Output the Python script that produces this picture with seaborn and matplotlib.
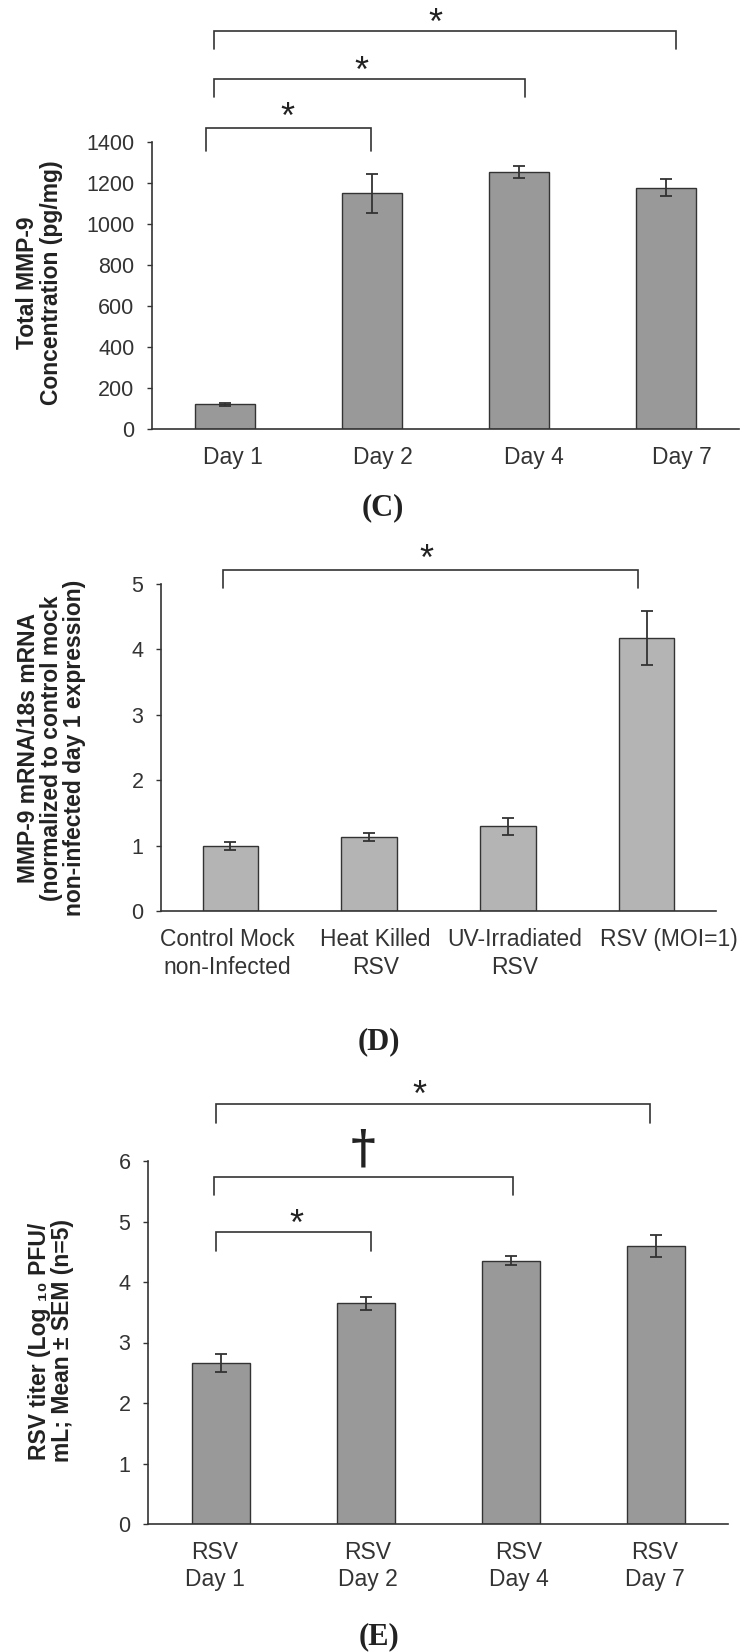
import matplotlib
matplotlib.use("Agg")
import matplotlib.pyplot as plt
import seaborn as sns
import numpy as np
import pandas as pd
from matplotlib.transforms import ScaledTranslation

# ---------------- data ----------------
c_days = ["Day 1", "Day 2", "Day 4", "Day 7"]
c_conc = [120, 1149, 1252, 1178]
c_err = [6, 94, 29, 41]
c_yticks = [0, 200, 400, 600, 800, 1000, 1200, 1400]

d_groups = ["Control Mock\nnon-Infected", "Heat Killed\nRSV", "UV-Irradiated\nRSV", "RSV (MOI=1)"]
d_expr = [1.00, 1.14, 1.30, 4.18]
d_err = [0.055, 0.065, 0.125, 0.41]
d_yticks = [0, 1, 2, 3, 4, 5]

e_groups = ["RSV\nDay 1", "RSV\nDay 2", "RSV\nDay 4", "RSV\nDay 7"]
e_titer = [2.66, 3.65, 4.355, 4.60]
e_err = [0.155, 0.11, 0.075, 0.18]
e_yticks = [0, 1, 2, 3, 4, 5, 6]

# significance annotations: (left, right, leg bottom, top, mark, mark x, mark y)
c_sig = [(-0.13, 0.99, 1356, 1468, "*", 0.42, 1571),
         (-0.075, 2.04, 1621, 1709, "*", 0.93, 1795),
         (-0.075, 3.07, 1852, 1940, "*", 1.43, 2028)]
d_sig = [(-0.05, 2.94, 4.94, 5.21, "*", 1.41, 5.53)]
e_sig = [(-0.03, 1.036, 4.52, 4.83, "*", 0.52, 5.13),
         (-0.046, 2.02, 5.44, 5.74, "\u2020", 0.985, 6.19),
         (-0.03, 2.96, 6.63, 6.94, "*", 1.37, 7.25)]

# ---------------- style ----------------
sns.set_theme(style="ticks")
plt.rcParams["font.family"] = ["Liberation Sans", "DejaVu Sans"]
DARK = "#333333"

W, H = 745, 1652
fig = plt.figure(figsize=(W / 100, H / 100), dpi=100)


def axes_px(left, right, top, bottom):
    return fig.add_axes([left / W, 1 - bottom / H, (right - left) / W, (bottom - top) / H])


def panel(ax, cats, vals, errs, color, width, ylim, yticks, sig, label_dx):
    sns.barplot(x=cats, y=vals, color=color, width=width, saturation=1,
                edgecolor=DARK, linewidth=1.0, ax=ax, zorder=2)
    ax.errorbar(np.arange(len(cats)), vals, yerr=errs, fmt="none", ecolor=DARK,
                elinewidth=1.3, capsize=4, capthick=1.3, zorder=3)
    ax.set_xlim(-0.5, 3.5)
    ax.set_ylim(*ylim)
    ax.set_yticks(yticks)
    ax.set_xlabel("")
    ax.set_ylabel("")
    sns.despine(ax=ax)
    for s in ("left", "bottom"):
        ax.spines[s].set_color(DARK)
        ax.spines[s].set_linewidth(1.2)
    ax.tick_params(axis="y", length=3.6, width=1.0, color=DARK, pad=9,
                   labelsize=15.5, labelcolor=DARK)
    ax.tick_params(axis="x", length=0, pad=12, labelsize=16.5, labelcolor=DARK)
    for lab in ax.get_xticklabels():
        lab.set_linespacing(1.25)
    for lab, dx in zip(ax.get_xticklabels(), label_dx):
        lab.set_transform(lab.get_transform() + ScaledTranslation(dx / 100, 0, fig.dpi_scale_trans))
    for (x0, x1, yb, yt, mark, mx, my) in sig:
        ax.plot([x0, x0, x1, x1], [yb, yt, yt, yb], color=DARK, lw=1.2,
                clip_on=False, solid_joinstyle="miter")
        if mark == "*":
            ax.annotate(mark, xy=(mx, my), xytext=(0, -15), textcoords="offset points",
                        ha="center", va="baseline", fontsize=26, color="#222222",
                        annotation_clip=False)
        else:
            ax.annotate(mark, xy=(mx, my), xytext=(0, -9), textcoords="offset points",
                        ha="center", va="baseline", fontsize=34, color="#222222",
                        family="DejaVu Serif", weight="bold", annotation_clip=False)


# ---------------- panel C ----------------
axC = axes_px(152, 739, 142, 429)
panel(axC, c_days, c_conc, c_err, "#999999", 0.41, (0, 1400), c_yticks, c_sig,
      [7.7, 11, 15, 16])
fig.text(39.5 / W, 1 - 283 / H, "Total MMP-9\nConcentration (pg/mg)", rotation=90,
         ha="center", va="center", multialignment="center", fontsize=16.5,
         weight="bold", color="#222222", linespacing=1.05)
fig.text(383 / W, 1 - 508 / H, "(C)", family="Liberation Serif", weight="bold",
         fontsize=22, ha="center", va="center", color="#222222")

# ---------------- panel D ----------------
axD = axes_px(161, 716, 584, 911.5)
panel(axD, d_groups, d_expr, d_err, "#b4b4b4", 0.40, (0, 5), d_yticks, d_sig,
      [-3, 6.5, 6.5, 22])
fig.text(52 / W, 1 - 748 / H,
         "MMP-9 mRNA/18s mRNA\n(normalized to control mock\nnon-infected day 1 expression)",
         rotation=90, ha="center", va="center", multialignment="center", fontsize=16.5,
         weight="bold", color="#222222", linespacing=1.0)
fig.text(378.6 / W, 1 - 1042 / H, "(D)", family="Liberation Serif", weight="bold",
         fontsize=22, ha="center", va="center", color="#222222")

# ---------------- panel E ----------------
axE = axes_px(148, 728, 1161, 1524)
panel(axE, e_groups, e_titer, e_err, "#999999", 0.40, (0, 6), e_yticks, e_sig,
      [-5.5, 2, 8, -1])
fig.text(51 / W, 1 - 1341 / H, "RSV titer (Log \u2081\u2080 PFU/\nmL; Mean \u00b1 SEM (n=5)",
         rotation=90, ha="center", va="center", multialignment="center", fontsize=16.5,
         weight="bold", color="#222222", linespacing=1.0)
fig.text(378.6 / W, 1 - 1637 / H, "(E)", family="Liberation Serif", weight="bold",
         fontsize=22, ha="center", va="center", color="#222222")

fig.savefig("out.png", dpi=100)
